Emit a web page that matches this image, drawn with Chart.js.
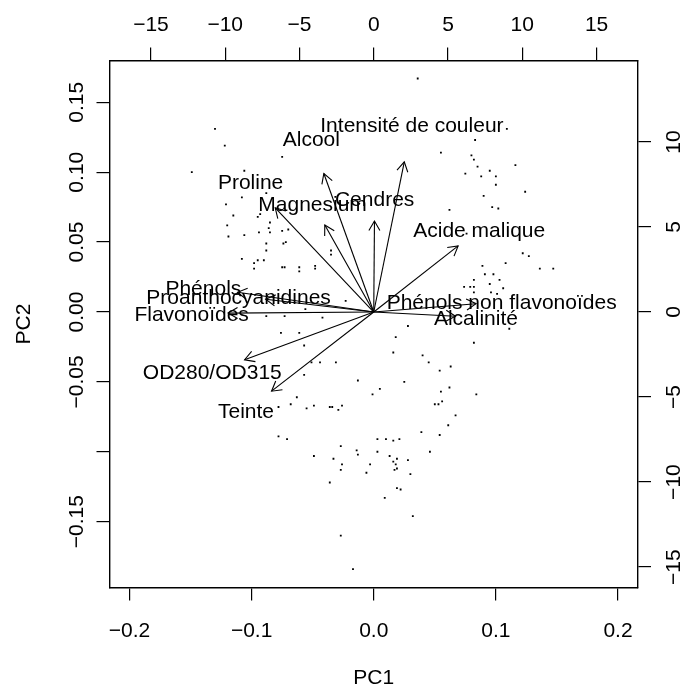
<!DOCTYPE html>
<html>
<head>
<meta charset="utf-8">
<script src="https://cdn.jsdelivr.net/npm/chart.js@4/dist/chart.umd.min.js"></script>
<style>
  html, body { margin: 0; padding: 0; background: #fff; }
  #biplot { display: block; }
</style>
</head>
<body>
<canvas id="biplot" width="686" height="689"></canvas>
<script>
// observation scores on the first two components
const scoresPC1 = [
  -0.130, -0.122, -0.075, -0.149, -0.106, -0.108, -0.121, -0.088, -0.115, -0.093,
  -0.095, -0.085, -0.120, -0.086, -0.085, -0.075, -0.070, -0.106, -0.094, -0.119,
  -0.074, -0.072, -0.088, -0.088, -0.108, -0.098, -0.095, -0.098, -0.090, -0.075,
  -0.073, -0.061, -0.061, -0.048, -0.048, -0.035, -0.035, -0.023, -0.056, -0.088,
  -0.073, -0.042, 0.028, 0.055, -0.076, -0.061, -0.057, -0.051, -0.044, -0.031,
  -0.057, -0.013, -0.063, -0.001, -0.078, -0.068, -0.055, -0.049, -0.036, -0.034,
  -0.029, -0.026, -0.078, -0.071, -0.027, -0.049, -0.033, -0.026, -0.027, -0.014,
  -0.013, -0.036, -0.006, -0.003, 0.005, 0.016, 0.018, 0.025, 0.003, 0.010,
  0.016, 0.021, 0.003, 0.013, 0.016, 0.019, 0.018, 0.017, 0.019, 0.028,
  0.030, 0.019, 0.022, 0.009, 0.032, -0.027, -0.017, 0.039, 0.046, 0.054,
  0.061, 0.067, 0.050, 0.053, 0.056, 0.055, 0.062, 0.054, 0.063, 0.045,
  0.040, 0.082, 0.084, 0.111, 0.076, 0.122, 0.127, 0.108, 0.136, 0.147,
  0.089, 0.091, 0.098, 0.103, 0.095, 0.082, 0.082, 0.074, 0.079, 0.082,
  0.096, 0.101, 0.106, 0.036, 0.083, 0.080, 0.082, 0.085, 0.095, 0.116,
  0.075, 0.088, 0.100, 0.100, 0.124, 0.090, 0.097, 0.102, 0.062, 0.109
];
const scoresPC2 = [
  0.131, 0.119, 0.111, 0.100, 0.101, 0.082, 0.077, 0.085, 0.069, 0.070,
  0.068, 0.064, 0.062, 0.060, 0.057, 0.058, 0.059, 0.055, 0.057, 0.054,
  0.049, 0.050, 0.049, 0.044, 0.038, 0.035, 0.037, 0.031, 0.037, 0.032,
  0.032, 0.032, 0.029, 0.033, 0.031, 0.044, 0.041, 0.008, 0.002, -0.003,
  -0.003, -0.004, -0.010, 0.114, -0.015, -0.015, -0.024, -0.036, -0.036, -0.036,
  -0.045, -0.049, -0.061, -0.059, -0.068, -0.066, -0.069, -0.067, -0.068, -0.068,
  -0.070, -0.067, -0.089, -0.091, -0.096, -0.103, -0.105, -0.109, -0.113, -0.099,
  -0.102, -0.122, -0.115, -0.109, -0.055, -0.029, -0.018, -0.050, -0.091, -0.091,
  -0.092, -0.091, -0.100, -0.103, -0.107, -0.105, -0.109, -0.113, -0.112, -0.106,
  -0.116, -0.126, -0.127, -0.133, -0.146, -0.160, -0.184, -0.086, -0.100, -0.088,
  -0.081, -0.074, -0.066, -0.066, -0.064, -0.057, -0.054, -0.042, -0.039, -0.036,
  -0.031, -0.022, -0.059, -0.012, 0.056, 0.042, 0.040, 0.035, 0.031, 0.031,
  0.033, 0.027, 0.027, 0.023, 0.020, 0.023, 0.018, 0.018, 0.018, 0.014,
  0.014, 0.013, 0.017, 0.167, 0.123, 0.112, 0.109, 0.104, 0.101, 0.105,
  0.099, 0.097, 0.097, 0.091, 0.086, 0.083, 0.075, 0.074, 0.073, 0.131
];

// variable loadings, read against the top and right axes
const variableNames = [
  'Alcool', 'Intensité de couleur', 'Proline', 'Magnesium', 'Cendres', 'Acide malique',
  'Phénols non flavonoïdes', 'Alcalinité', 'Phénols', 'Proanthocyanidines',
  'Flavonoïdes', 'OD280/OD315', 'Teinte'
];
const loadingsPC1 = [-4.20, 2.57, -8.29, -4.12, 0.06, 7.10, 8.61, 6.88, -11.47, -9.10, -12.26, -10.87, -8.60];
const loadingsPC2 = [10.18, 11.04, 7.66, 6.39, 6.69, 4.86, 0.61, -0.31, 1.45, 0.94, -0.08, -3.51, -5.82];

// axis ticks and their labels
const pc1Ticks = [-0.2, -0.1, 0, 0.1, 0.2];
const pc1TickLabels = ['−0.2', '−0.1', '0.0', '0.1', '0.2'];
const pc2Ticks = [-0.15, -0.10, -0.05, 0, 0.05, 0.10, 0.15];
const pc2TickLabels = ['−0.15', '', '−0.05', '0.00', '0.05', '0.10', '0.15'];
const loadXTicks = [-15, -10, -5, 0, 5, 10, 15];
const loadXTickLabels = ['−15', '−10', '−5', '0', '5', '10', '15'];
const loadYTicks = [-15, -10, -5, 0, 5, 10];
const loadYTickLabels = ['−15', '−10', '−5', '0', '5', '10'];

const arrowShrink = 0.8;
const headLength = 11;
const headAngle = Math.PI / 6;
const textFont = '21px "Liberation Sans", Arial, Helvetica, sans-serif';
const capHalf = 7.5;

function axisOptions(position, min, max, ticks, size) {
    return {
        type: 'linear',
        position,
        min,
        max,
        afterBuildTicks: scale => { scale.ticks = ticks.map(value => ({ value })); },
        afterFit: scale => {
            if (scale.isHorizontal()) scale.height = size;
            else scale.width = size;
        },
        ticks: { display: false },
        grid: { display: true, drawOnChartArea: false, drawTicks: true, tickLength: 13, color: '#000', lineWidth: 1.2 },
        border: { display: true, color: '#000', width: 1.4 },
    };
}

const scoreData = scoresPC1.map((value, i) => ({ x: value, y: scoresPC2[i] }));

const arrowDatasets = variableNames.map((name, i) => ({
    label: name,
    kind: 'loading',
    data: [{ x: 0, y: 0 }, { x: loadingsPC1[i] * arrowShrink, y: loadingsPC2[i] * arrowShrink }],
    xAxisID: 'x2',
    yAxisID: 'y2',
    showLine: true,
    borderColor: '#000',
    borderWidth: 1.1,
    pointRadius: 0,
    order: 1,
}));

function drawRotated(ctx, text, x, y) {
    ctx.save();
    ctx.translate(x, y);
    ctx.rotate(-Math.PI / 2);
    ctx.fillText(text, 0, capHalf);
    ctx.restore();
}

const biplotDecor = {
    id: 'biplotDecor',
    afterDatasetsDraw(chart) {
        const ctx = chart.ctx;
        const { x, y, x2, y2 } = chart.scales;
        const area = chart.chartArea;
        ctx.save();

        // open arrow heads at the end of each loading vector
        ctx.strokeStyle = '#000';
        ctx.lineWidth = 1.1;
        chart.data.datasets.forEach((dataset, i) => {
            if (dataset.kind !== 'loading') return;
            const points = chart.getDatasetMeta(i).data;
            const x0 = points[0].x, y0 = points[0].y, x1 = points[1].x, y1 = points[1].y;
            const angle = Math.atan2(y1 - y0, x1 - x0);
            ctx.beginPath();
            ctx.moveTo(x1 - headLength * Math.cos(angle - headAngle), y1 - headLength * Math.sin(angle - headAngle));
            ctx.lineTo(x1, y1);
            ctx.lineTo(x1 - headLength * Math.cos(angle + headAngle), y1 - headLength * Math.sin(angle + headAngle));
            ctx.stroke();
        });

        ctx.fillStyle = '#000';
        ctx.font = textFont;
        ctx.textAlign = 'center';
        ctx.textBaseline = 'alphabetic';

        // variable names at the full loading position
        variableNames.forEach((name, i) => {
            ctx.fillText(name, x2.getPixelForValue(loadingsPC1[i]), y2.getPixelForValue(loadingsPC2[i]) + capHalf);
        });

        // tick labels
        pc1Ticks.forEach((value, i) => ctx.fillText(pc1TickLabels[i], x.getPixelForValue(value), 629 + capHalf));
        loadXTicks.forEach((value, i) => ctx.fillText(loadXTickLabels[i], x2.getPixelForValue(value), 23 + capHalf));
        pc2Ticks.forEach((value, i) => {
            if (pc2TickLabels[i]) drawRotated(ctx, pc2TickLabels[i], 75, y.getPixelForValue(value));
        });
        loadYTicks.forEach((value, i) => drawRotated(ctx, loadYTickLabels[i], 672, y2.getPixelForValue(value)));

        // axis titles
        ctx.fillText('PC1', (area.left + area.right) / 2, 676 + capHalf);
        drawRotated(ctx, 'PC2', 22, (area.top + area.bottom) / 2);

        ctx.restore();
    },
};

new Chart(document.getElementById('biplot'), {
    type: 'scatter',
    data: {
        datasets: [
            {
                label: 'observations',
                data: scoreData,
                xAxisID: 'x',
                yAxisID: 'y',
                pointStyle: 'rect',
                pointRadius: 1.3,
                backgroundColor: '#000',
                borderWidth: 0,
                order: 2,
            },
            ...arrowDatasets,
        ],
    },
    options: {
        responsive: false,
        devicePixelRatio: 1,
        animation: false,
        events: [],
        layout: { padding: 0 },
        plugins: { legend: { display: false }, tooltip: { enabled: false } },
        scales: {
            x: axisOptions('bottom', -0.2164, 0.2164, pc1Ticks, 101.5),
            y: axisOptions('left', -0.1971, 0.1799, pc2Ticks, 109.5),
            x2: axisOptions('top', -17.79, 17.79, loadXTicks, 60.5),
            y2: axisOptions('right', -16.20, 14.79, loadYTicks, 48),
        },
    },
    plugins: [biplotDecor],
});
</script>
</body>
</html>
